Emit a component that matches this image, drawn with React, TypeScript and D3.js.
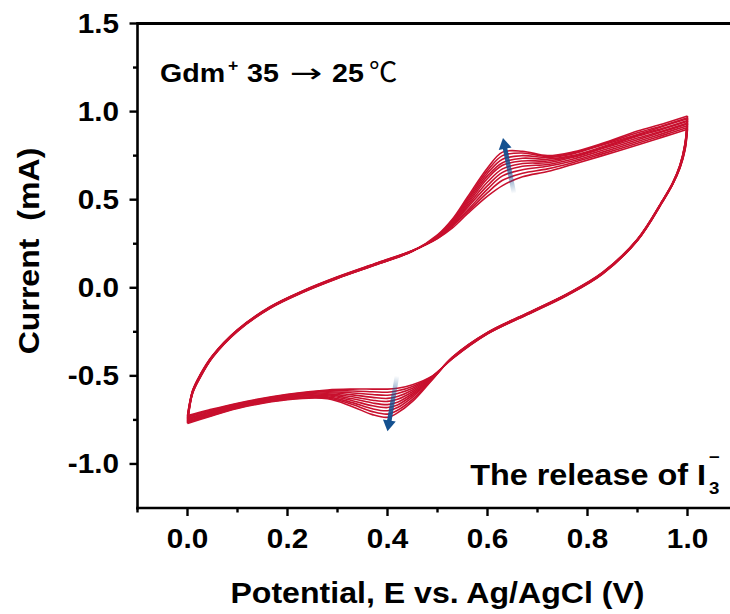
import React from 'react';
import * as d3 from 'd3';

const W = 730;
const H = 614;

// Axis ticks
const xMajor = [0.0, 0.2, 0.4, 0.6, 0.8, 1.0];
const xMajorLabels = ['0.0', '0.2', '0.4', '0.6', '0.8', '1.0'];
const xMinor = [-0.1, 0.1, 0.3, 0.5, 0.7, 0.9];
const yMajor = [-1.0, -0.5, 0.0, 0.5, 1.0, 1.5];
const yMajorLabels = ['-1.0', '-0.5', '0.0', '0.5', '1.0', '1.5'];
const yMinor = [-0.75, -0.25, 0.25, 0.75, 1.25];

// Potential grids (V)
const fwdE = [0, 0.01, 0.025, 0.05, 0.1, 0.165, 0.23, 0.3, 0.38, 0.45, 0.5, 0.53, 0.56, 0.6, 0.63, 0.67, 0.72, 0.77, 0.83, 0.9, 0.95, 1.0];
const revE = [1.0, 0.995, 0.985, 0.97, 0.95, 0.9, 0.83, 0.76, 0.68, 0.6, 0.53, 0.49, 0.45, 0.42, 0.4, 0.37, 0.33, 0.28, 0.2, 0.1, 0.04, 0.0];

// Anodic (forward) sweep currents (mA), cycle 1 (35 °C) ... cycle 10 (25 °C)
const fwdI = [
  [-0.725, -0.585, -0.495, -0.385, -0.238, -0.108, -0.018, 0.062, 0.142, 0.212, 0.28, 0.34, 0.42, 0.52, 0.58, 0.63, 0.66, 0.70, 0.75, 0.81, 0.855, 0.90],
  [-0.73, -0.587, -0.497, -0.386, -0.239, -0.109, -0.019, 0.061, 0.141, 0.211, 0.28, 0.35, 0.43, 0.54, 0.61, 0.65, 0.675, 0.71, 0.76, 0.82, 0.865, 0.91],
  [-0.735, -0.588, -0.498, -0.387, -0.24, -0.11, -0.02, 0.06, 0.14, 0.21, 0.285, 0.355, 0.44, 0.56, 0.635, 0.67, 0.69, 0.72, 0.77, 0.83, 0.875, 0.92],
  [-0.74, -0.59, -0.50, -0.388, -0.241, -0.111, -0.021, 0.059, 0.139, 0.21, 0.285, 0.36, 0.455, 0.58, 0.655, 0.69, 0.70, 0.73, 0.78, 0.84, 0.885, 0.93],
  [-0.745, -0.592, -0.502, -0.39, -0.242, -0.112, -0.022, 0.058, 0.138, 0.209, 0.29, 0.365, 0.465, 0.60, 0.675, 0.705, 0.71, 0.74, 0.79, 0.85, 0.89, 0.935],
  [-0.75, -0.594, -0.504, -0.391, -0.243, -0.113, -0.023, 0.057, 0.137, 0.209, 0.29, 0.37, 0.475, 0.62, 0.695, 0.72, 0.72, 0.745, 0.795, 0.86, 0.90, 0.945],
  [-0.755, -0.596, -0.506, -0.392, -0.244, -0.114, -0.024, 0.056, 0.136, 0.208, 0.29, 0.375, 0.485, 0.635, 0.71, 0.735, 0.73, 0.75, 0.80, 0.865, 0.905, 0.95],
  [-0.76, -0.598, -0.508, -0.394, -0.245, -0.115, -0.025, 0.055, 0.135, 0.208, 0.295, 0.38, 0.495, 0.65, 0.73, 0.75, 0.74, 0.76, 0.81, 0.87, 0.915, 0.96],
  [-0.765, -0.60, -0.51, -0.395, -0.246, -0.116, -0.026, 0.054, 0.134, 0.207, 0.295, 0.385, 0.505, 0.665, 0.75, 0.765, 0.745, 0.765, 0.815, 0.88, 0.92, 0.965],
  [-0.77, -0.602, -0.512, -0.396, -0.247, -0.117, -0.027, 0.053, 0.133, 0.207, 0.30, 0.39, 0.515, 0.68, 0.77, 0.775, 0.75, 0.77, 0.82, 0.89, 0.93, 0.975],
];

// Cathodic (reverse) sweep currents (mA)
const revI = [
  [0.90, 0.78, 0.68, 0.585, 0.487, 0.268, 0.078, -0.042, -0.152, -0.262, -0.402, -0.50, -0.55, -0.57, -0.575, -0.575, -0.575, -0.58, -0.605, -0.655, -0.695, -0.725],
  [0.91, 0.785, 0.682, 0.586, 0.488, 0.269, 0.079, -0.041, -0.151, -0.261, -0.401, -0.502, -0.56, -0.585, -0.593, -0.59, -0.586, -0.585, -0.608, -0.658, -0.70, -0.73],
  [0.92, 0.79, 0.684, 0.587, 0.489, 0.27, 0.08, -0.04, -0.15, -0.26, -0.40, -0.504, -0.57, -0.60, -0.61, -0.606, -0.597, -0.59, -0.611, -0.661, -0.704, -0.735],
  [0.93, 0.795, 0.686, 0.588, 0.49, 0.271, 0.081, -0.039, -0.149, -0.259, -0.399, -0.506, -0.58, -0.617, -0.628, -0.622, -0.608, -0.596, -0.615, -0.665, -0.709, -0.74],
  [0.935, 0.80, 0.688, 0.589, 0.491, 0.272, 0.082, -0.038, -0.148, -0.258, -0.398, -0.509, -0.59, -0.633, -0.645, -0.638, -0.619, -0.602, -0.618, -0.668, -0.713, -0.745],
  [0.945, 0.805, 0.69, 0.59, 0.492, 0.273, 0.083, -0.037, -0.147, -0.257, -0.397, -0.511, -0.60, -0.65, -0.663, -0.654, -0.63, -0.608, -0.622, -0.672, -0.717, -0.75],
  [0.95, 0.81, 0.692, 0.591, 0.493, 0.274, 0.084, -0.036, -0.146, -0.256, -0.396, -0.513, -0.61, -0.665, -0.68, -0.67, -0.641, -0.613, -0.625, -0.675, -0.722, -0.755],
  [0.96, 0.812, 0.694, 0.592, 0.494, 0.275, 0.085, -0.035, -0.145, -0.255, -0.395, -0.515, -0.62, -0.68, -0.698, -0.687, -0.652, -0.619, -0.628, -0.678, -0.726, -0.76],
  [0.965, 0.816, 0.696, 0.593, 0.495, 0.276, 0.086, -0.034, -0.144, -0.254, -0.394, -0.518, -0.633, -0.695, -0.717, -0.703, -0.663, -0.625, -0.632, -0.682, -0.731, -0.765],
  [0.975, 0.82, 0.698, 0.594, 0.496, 0.277, 0.087, -0.033, -0.143, -0.253, -0.393, -0.52, -0.645, -0.71, -0.735, -0.72, -0.675, -0.63, -0.635, -0.685, -0.735, -0.77],
];

// Trend arrows [E, I] tail -> tip
const upArrow = [[0.653, 0.535], [0.631, 0.85]];
const downArrow = [[0.419, -0.50], [0.40, -0.815]];

const RED = '#c8102e';
const BLUE = '#145190';
const FONT = '"Liberation Sans", Arial, sans-serif';

function T({ x, y, sx = 1.1, rot = 0, anchor = 'start', size, weight = 'bold', family, children }: any) {
  const tr = `translate(${x},${y})${rot ? ` rotate(${rot})` : ''} scale(${sx},1)`;
  return (
    <text transform={tr} textAnchor={anchor} fontSize={size} fontWeight={weight} fontFamily={family || FONT} style={{ whiteSpace: 'pre' }}>
      {children}
    </text>
  );
}

function Arrow({ id, pts, x, y }: any) {
  const x1 = x(pts[0][0]), y1 = y(pts[0][1]);
  const x2 = x(pts[1][0]), y2 = y(pts[1][1]);
  const ang = Math.atan2(y2 - y1, x2 - x1);
  const headL = 11, headW = 6.5;
  const bx = x2 - headL * Math.cos(ang), by = y2 - headL * Math.sin(ang);
  const nx = -Math.sin(ang), ny = Math.cos(ang);
  const head = `${x2},${y2} ${bx + nx * headW},${by + ny * headW} ${bx - nx * headW},${by - ny * headW}`;
  return (
    <g>
      <defs>
        <linearGradient id={id} gradientUnits="userSpaceOnUse" x1={x1} y1={y1} x2={bx} y2={by}>
          <stop offset="0" stopColor={BLUE} stopOpacity={0} />
          <stop offset="0.55" stopColor={BLUE} stopOpacity={0.75} />
          <stop offset="1" stopColor={BLUE} stopOpacity={1} />
        </linearGradient>
      </defs>
      <line x1={x1} y1={y1} x2={bx + Math.cos(ang)} y2={by + Math.sin(ang)} stroke={`url(#${id})`} strokeWidth={4.5} />
      <polygon points={head} fill={BLUE} />
    </g>
  );
}

export default function App() {
  const x = d3.scaleLinear().domain([-0.1, 1.1]).range([137.5, 737.5]);
  const y = d3.scaleLinear().domain([-1.25, 1.5]).range([508, 23.5]);
  const line = d3
    .line<number[]>()
    .x((d) => x(d[0]))
    .y((d) => y(d[1]))
    .curve(d3.curveCatmullRom.alpha(0.5));

  const x0 = x(-0.1);
  const yb = y(-1.25);
  const yt = y(1.5);

  return (
    <svg width={W} height={H} style={{ position: 'absolute', left: 0, top: 0, background: '#fff' }} fontFamily={FONT}>
      <rect x={0} y={0} width={W} height={H} fill="#fff" />
      {/* CV curves */}
      <g fill="none" stroke={RED} strokeWidth={1.6} strokeLinejoin="round">
        {fwdI.map((cyc, k) => (
          <path key={'f' + k} d={line(fwdE.map((e, i) => [e, cyc[i]])) || ''} />
        ))}
        {revI.map((cyc, k) => (
          <path key={'r' + k} d={line(revE.map((e, i) => [e, cyc[i]])) || ''} />
        ))}
      </g>

      <Arrow id="gUp" pts={upArrow} x={x} y={y} />
      <Arrow id="gDown" pts={downArrow} x={x} y={y} />

      {/* Frame / axes */}
      <line x1={x0} y1={yt} x2={W} y2={yt} stroke="#000" strokeWidth={3} />
      <line x1={x0} y1={yt - 1.5} x2={x0} y2={yb + 1.5} stroke="#000" strokeWidth={2.6} />
      <line x1={x0 - 1.3} y1={yb} x2={W} y2={yb} stroke="#000" strokeWidth={2.6} />

      {/* x ticks */}
      {xMajor.map((v, i) => (
        <g key={'xm' + i}>
          <line x1={x(v)} x2={x(v)} y1={yb} y2={yb + 8} stroke="#000" strokeWidth={2.4} />
          <T x={x(v)} y={547.5} anchor="middle" size={27}>{xMajorLabels[i]}</T>
        </g>
      ))}
      {xMinor.map((v, i) => (
        <line key={'xn' + i} x1={x(v)} x2={x(v)} y1={yb} y2={yb + 4.5} stroke="#000" strokeWidth={2.4} />
      ))}

      {/* y ticks */}
      {yMajor.map((v, i) => (
        <g key={'ym' + i}>
          <line x1={x0} x2={x0 - 8} y1={y(v)} y2={y(v)} stroke="#000" strokeWidth={2.4} />
          <T x={119} y={y(v) + 9.5} anchor="end" size={27}>{yMajorLabels[i]}</T>
        </g>
      ))}
      {yMinor.map((v, i) => (
        <line key={'yn' + i} x1={x0} x2={x0 - 4.5} y1={y(v)} y2={y(v)} stroke="#000" strokeWidth={2.4} />
      ))}

      {/* Axis titles */}
      <T x={437.5} y={603} anchor="middle" size={30} sx={1.07}>Potential, E vs. Ag/AgCl (V)</T>
      <T x={39} y={251} rot={-90} anchor="middle" size={30} sx={1.07}>{'Current  (mA)'}</T>

      {/* Annotations */}
      <T x={160} y={82} size={26}>Gdm</T>
      <T x={228} y={71} size={16}>+</T>
      <T x={247} y={82} size={26}>35</T>
      <T x={290} y={82} size={26} sx={1.5} weight="normal" family='"DejaVu Sans", sans-serif'>→</T>
      <T x={332} y={82} size={26}>25</T>
      <T x={369} y={82} size={27} sx={1.05} weight="normal" family='"Noto Sans CJK SC", serif'>℃</T>

      <T x={706} y={485} anchor="end" size={30} sx={1.08}>The release of I</T>
      <T x={709} y={494} size={17}>3</T>
      <T x={709} y={463} size={17}>−</T>
    </svg>
  );
}
